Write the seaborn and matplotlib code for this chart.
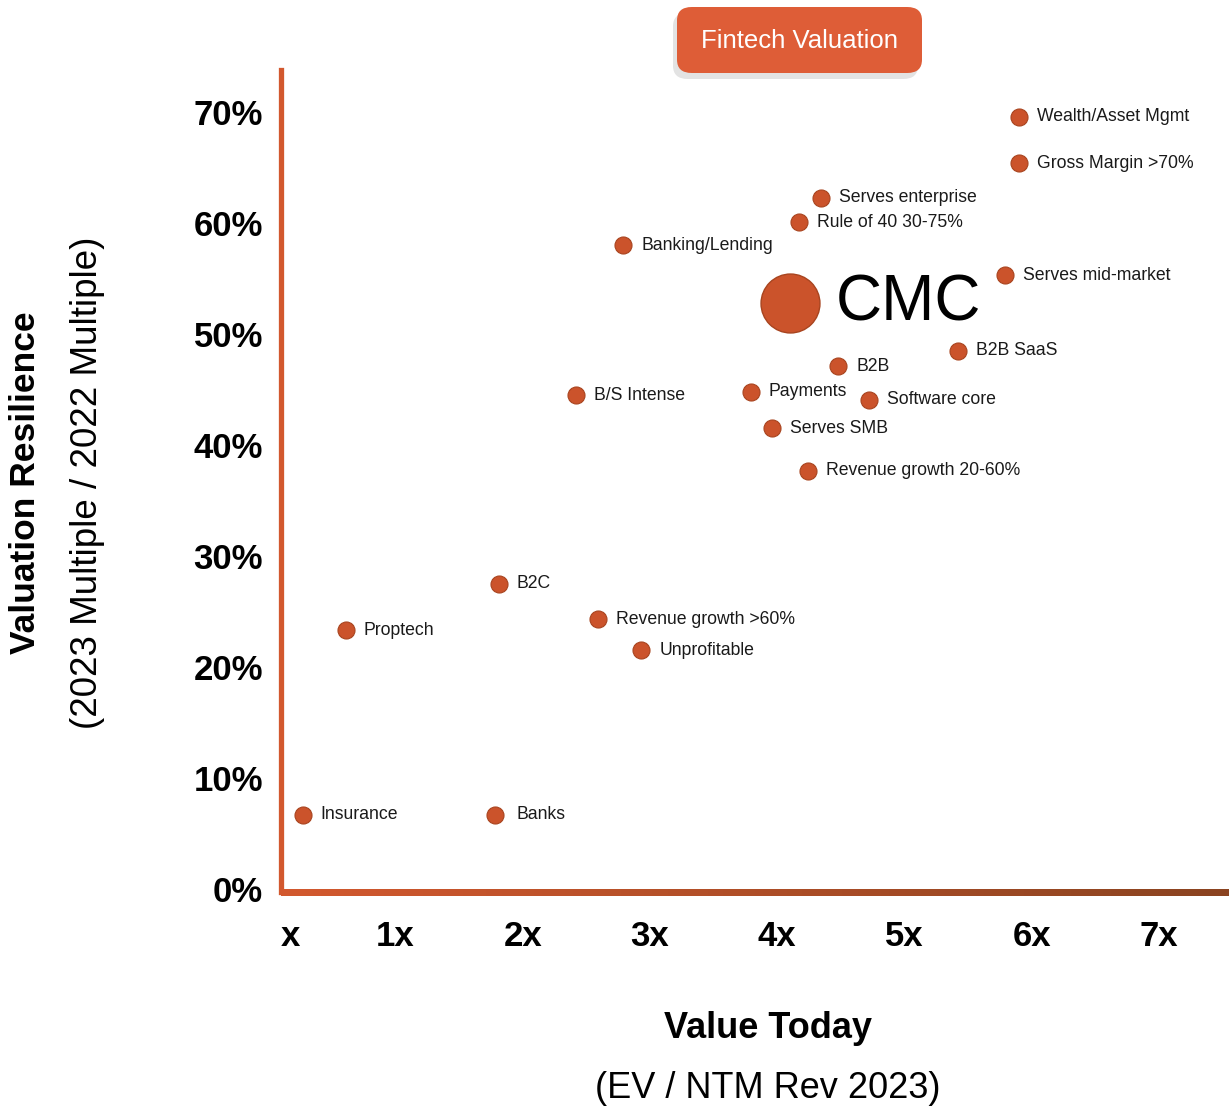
import matplotlib
matplotlib.use("Agg")
import matplotlib.pyplot as plt
import seaborn as sns
import pandas as pd
import numpy as np
from matplotlib.patches import FancyBboxPatch
from matplotlib.collections import LineCollection
from matplotlib.colors import LinearSegmentedColormap

# ---- data ----
segments = ["Wealth/Asset Mgmt", "Gross Margin >70%", "Serves enterprise", "Rule of 40 30-75%",
            "Banking/Lending", "Serves mid-market", "B2B SaaS", "B2B", "B/S Intense",
            "Payments", "Software core", "Serves SMB", "Revenue growth 20-60%", "B2C",
            "Proptech", "Revenue growth >60%", "Unprofitable", "Insurance", "Banks"]
value_today = [5.90, 5.90, 4.34, 4.17, 2.79, 5.79, 5.42, 4.48, 2.42, 3.79, 4.72, 3.96,
               4.24, 1.81, 0.61, 2.59, 2.93, 0.27, 1.78]
resilience = [69.6, 65.4, 62.3, 60.1, 58.0, 55.3, 48.5, 47.1, 44.5, 44.8, 44.1, 41.5,
              37.7, 27.5, 23.3, 24.3, 21.5, 6.7, 6.7]
cmc_label = "CMC"
cmc_value = [4.10]
cmc_resilience = [52.8]
x_ticks = [0, 1, 2, 3, 4, 5, 6, 7]
x_tick_labels = ["x", "1x", "2x", "3x", "4x", "5x", "6x", "7x"]
y_ticks = [0, 10, 20, 30, 40, 50, 60, 70]
y_tick_labels = ["0%", "10%", "20%", "30%", "40%", "50%", "60%", "70%"]

df = pd.DataFrame({"segment": segments, "x": value_today, "y": resilience})
cmc = pd.DataFrame({"segment": [cmc_label], "x": cmc_value, "y": cmc_resilience})

sns.set_theme(style="white")
plt.rcParams["font.family"] = ["Liberation Sans", "DejaVu Sans"]

W, H = 1229, 1111
fig = plt.figure(figsize=(W / 100, H / 100), dpi=100)
ax = fig.add_axes([281 / W, 1 - 892 / H, 1 - 281 / W, (892 - 70) / H])

dot = "#CB532B"
sns.scatterplot(data=df, x="x", y="y", s=150, color=dot, edgecolor="#A8441F",
                linewidth=0.8, ax=ax, zorder=3)
sns.scatterplot(data=cmc, x="x", y="y", s=1800, color=dot, edgecolor="#A8441F",
                linewidth=1.0, ax=ax, zorder=3)

for _, r in df.iterrows():
    off = 16 if r["segment"] == "Banks" else 13
    ax.annotate(r["segment"], (r["x"], r["y"]), xytext=(off, 0), textcoords="offset points",
                va="center", ha="left", fontsize=12.7, color="#1a1a1a")
for _, r in cmc.iterrows():
    ax.annotate(r["segment"], (r["x"], r["y"]), xytext=(33, 0), textcoords="offset points",
                va="center", ha="left", fontsize=46, color="black")

ax.set_xlim(0.1, 7.55)
ax.set_ylim(-0.27, 73.8)
xt = [max(t, 0.1) for t in x_ticks]
ax.set_xticks(xt)
ax.set_xticklabels(x_tick_labels, fontsize=25, fontweight="bold")
ax.get_xticklabels()[0].set_ha("left")
ax.set_yticks(y_ticks)
ax.set_yticklabels(y_tick_labels, fontsize=25, fontweight="bold")
ax.tick_params(axis="both", length=0, colors="black")
ax.tick_params(axis="x", pad=20)
ax.tick_params(axis="y", pad=13)
ax.set_xlabel("")
ax.set_ylabel("")

for s in ["top", "right", "bottom"]:
    ax.spines[s].set_visible(False)
ax.spines["left"].set_color("#D2582E")
ax.spines["left"].set_linewidth(3.8)

# gradient bottom axis line
cmap = LinearSegmentedColormap.from_list("axg", ["#D2582E", "#8A4320"])
n = 120
xs = np.linspace(0, 1, n + 1)
segs = [[(xs[i], 0), (xs[i + 1] + 0.004, 0)] for i in range(n)]
lc = LineCollection(segs, colors=cmap(np.linspace(0, 1, n)), linewidths=3.8,
                    transform=ax.transAxes, clip_on=False, zorder=4, capstyle="butt",
                    antialiaseds=False)
ax.add_collection(lc)

# axis titles
fig.text(26 / W, 1 - 483 / H, "Valuation Resilience", rotation=90, ha="center", va="center",
         fontsize=25.5, fontweight="bold", color="black")
fig.text(88 / W, 1 - 483 / H, "(2023 Multiple / 2022 Multiple)", rotation=90, ha="center",
         va="center", fontsize=26.5, color="black")
fig.text(768 / W, 1 - 1028 / H, "Value Today", ha="center", va="center", fontsize=26,
         fontweight="bold", color="black")
fig.text(768 / W, 1 - 1088 / H, "(EV / NTM Rev 2023)", ha="center", va="center", fontsize=26,
         color="black")

# title button
shadow = FancyBboxPatch((673 / W, 1 - 79 / H), 245 / W, 66 / H,
                        boxstyle="round,pad=0,rounding_size=0.012",
                        transform=fig.transFigure, facecolor="#E3E3E3", edgecolor="none", zorder=0)
fig.patches.append(shadow)
box = FancyBboxPatch((677 / W, 1 - 73 / H), 245 / W, 66 / H,
                     boxstyle="round,pad=0,rounding_size=0.012",
                     transform=fig.transFigure, facecolor="#DE5D37", edgecolor="none", zorder=1)
fig.patches.append(box)
fig.text(799 / W, 1 - 41 / H, "Fintech Valuation", ha="center", va="center", fontsize=18.5,
         color="white", zorder=2)

fig.savefig("out.png", dpi=100, facecolor="white")
